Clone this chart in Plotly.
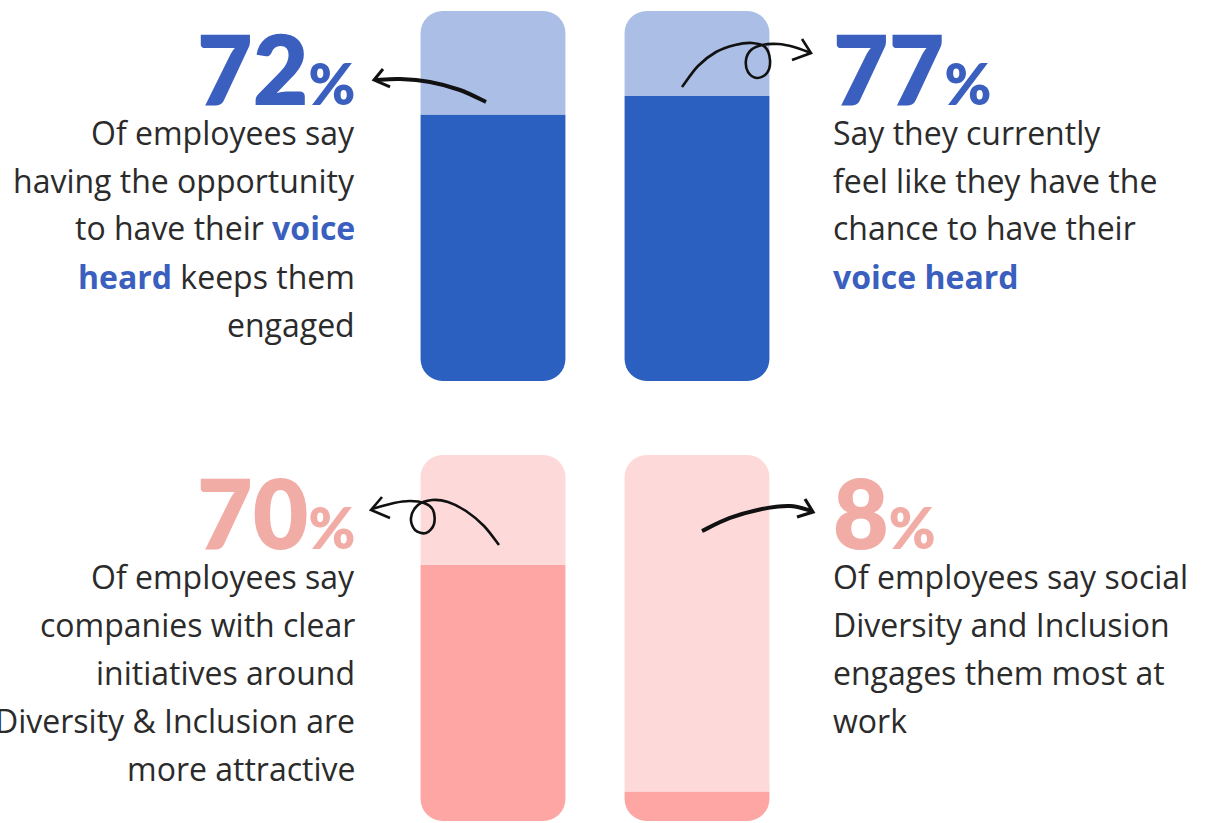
import plotly.graph_objects as go

W, H = 1208, 823

# Survey shares (percent of employees)
voice_values = [72, 77]   # "voice heard" pair
di_values = [70, 8]       # Diversity & Inclusion pair
bar_slots = [0, 1]

voice_big = ["72", "77"]
di_big = ["70", "8"]

BLUE_DARK = "#2c60c0"
BLUE_LIGHT = "#abbfe6"
BLUE_TEXT = "#3a5fbe"
PINK_DARK = "#fea6a3"
PINK_LIGHT = "#fddad9"
PINK_TEXT = "#f2aca6"
INK = "#2b2b2b"
BODY_FONT = "Open Sans"
NUM_FONT = "Lato"

voice_left_lines = [
    "Of employees say",
    "having the opportunity",
    f"to have their <b><span style='color:{BLUE_TEXT}'>voice</span></b>",
    f"<b><span style='color:{BLUE_TEXT}'>heard</span></b> keeps them",
    "engaged",
]
voice_right_lines = [
    "Say they currently",
    "feel like they have the",
    "chance to have their",
    f"<b><span style='color:{BLUE_TEXT}'>voice heard</span></b>",
]
di_left_lines = [
    "Of employees say",
    "companies with clear",
    "initiatives around",
    "Diversity &amp; Inclusion are",
    "more attractive",
]
di_right_lines = [
    "Of employees say social",
    "Diversity and Inclusion",
    "engages them most at",
    "work",
]

fig = go.Figure()

BAR_W = 0.71
RADIUS = 22


def add_pair(values, xa, ya, dark, light):
    """Each column is a 0-100 track centred on the axis zero line (-50..50).
    Relative stacking puts the outermost segment of each side at the rounded ends."""
    light_low = [-max(50 - v, 0) for v in values]   # pale part below the midline
    dark_low = [-min(v, 50) for v in values]        # filled part below the midline
    dark_high = [max(v - 50, 0) for v in values]    # filled part above the midline
    light_high = [min(100 - v, 50) for v in values]  # pale part above the midline
    common = dict(x=bar_slots, width=BAR_W, xaxis=xa, yaxis=ya,
                  hoverinfo="skip", showlegend=False)
    for seg, col in [(light_low, light), (dark_low, dark),
                     (dark_high, dark), (light_high, light)]:
        fig.add_trace(go.Bar(y=seg, marker=dict(color=col, cornerradius=RADIUS,
                                                line_width=0), **common))


add_pair(voice_values, "x", "y", BLUE_DARK, BLUE_LIGHT)
add_pair(di_values, "x2", "y2", PINK_DARK, PINK_LIGHT)

# 1 slot = 204 px, first slot centred at x = 493 px
unit = 204.0
x0 = -493.0 / unit
xrange = [x0, x0 + W / unit]
axis_off = dict(visible=False, fixedrange=True)

fig.update_layout(
    width=W, height=H,
    margin=dict(l=0, r=0, t=0, b=0),
    paper_bgcolor="white", plot_bgcolor="rgba(0,0,0,0)",
    barmode="relative",
    barcornerradius=RADIUS,
    xaxis=dict(domain=[0, 1], range=xrange, anchor="y", **axis_off),
    yaxis=dict(domain=[1 - 381 / H, 1 - 11 / H], range=[-50, 50], anchor="x", **axis_off),
    xaxis2=dict(domain=[0, 1], range=xrange, anchor="y2", **axis_off),
    yaxis2=dict(domain=[1 - 821 / H, 1 - 455 / H], range=[-50, 50], anchor="x2", **axis_off),
    font=dict(family=BODY_FONT, color=INK),
)


def px(x, y):
    return x / W, 1 - y / H


annotations = []


def text_block(lines, x, y_first, step, anchor):
    for i, line in enumerate(lines):
        ax, ay = px(x, y_first + i * step)
        annotations.append(dict(
            x=ax, y=ay, xref="paper", yref="paper", text=line, showarrow=False,
            xanchor=anchor, yanchor="middle", align=anchor,
            font=dict(family=BODY_FONT, size=32, color=INK, weight=400),
        ))


def big_number(num, colour, x, y, anchor):
    ax, ay = px(x, y)
    annotations.append(dict(
        x=ax, y=ay, xref="paper", yref="paper",
        text=f"{num}<span style='font-size:56px'>%</span>",
        showarrow=False, xanchor=anchor, yanchor="middle",
        font=dict(family=NUM_FONT, size=96, color=colour, weight=800),
    ))


big_number(voice_big[0], BLUE_TEXT, 357, 67, "right")
big_number(voice_big[1], BLUE_TEXT, 831, 67, "left")
big_number(di_big[0], PINK_TEXT, 357, 512, "right")
big_number(di_big[1], PINK_TEXT, 831, 512, "left")

text_block(voice_left_lines, 357, 132, 48, "right")
text_block(voice_right_lines, 831, 132, 48, "left")
text_block(di_left_lines, 357, 576, 48, "right")
text_block(di_right_lines, 831, 576, 48, "left")

fig.update_layout(annotations=annotations)


# hand-drawn arrows: smooth paths through a few guide points
def smooth_path(points):
    pts = [px(x, y) for x, y in points]
    ext = [pts[0]] + pts + [pts[-1]]
    d = f"M {pts[0][0]:.5f},{pts[0][1]:.5f}"
    for i in range(1, len(ext) - 2):
        p0, p1, p2, p3 = ext[i - 1], ext[i], ext[i + 1], ext[i + 2]
        c1 = (p1[0] + (p2[0] - p0[0]) / 6, p1[1] + (p2[1] - p0[1]) / 6)
        c2 = (p2[0] - (p3[0] - p1[0]) / 6, p2[1] - (p3[1] - p1[1]) / 6)
        d += (f" C {c1[0]:.5f},{c1[1]:.5f} {c2[0]:.5f},{c2[1]:.5f}"
              f" {p2[0]:.5f},{p2[1]:.5f}")
    return d


def polyline(points):
    pts = [px(x, y) for x, y in points]
    return "M " + " L ".join(f"{a:.5f},{b:.5f}" for a, b in pts)


strokes = [
    # 72 %: brush stroke sweeping left
    (smooth_path([(486, 102), (460, 90), (430, 82), (400, 79), (376, 80)]), 4.0),
    (polyline([(383, 69), (374, 80), (390, 87)]), 3.0),
    # 77 %: rising line with a clockwise curl, pointing right
    (smooth_path([(682, 87), (698, 66), (716, 52), (735, 45), (752, 43), (765, 47),
                  (770, 60), (767, 73), (757, 78), (748, 72), (746, 60), (751, 50),
                  (762, 45), (778, 44), (794, 47), (811, 53)]), 2.6),
    (polyline([(802, 39), (811, 53), (792, 60)]), 2.6),
    # 70 %: line from the bar with a curl, pointing left
    (smooth_path([(499, 545), (484, 526), (466, 511), (448, 502), (432, 500),
                  (418, 505), (411, 518), (415, 530), (426, 533), (434, 524),
                  (433, 510), (424, 503), (410, 501), (394, 503), (372, 509)]), 2.6),
    (polyline([(382, 497), (371, 510), (390, 518)]), 2.6),
    # 8 %: brush stroke sweeping right
    (smooth_path([(702, 531), (730, 518), (762, 509), (790, 506), (812, 511)]), 4.0),
    (polyline([(805, 499), (813, 512), (797, 517)]), 3.2),
]

fig.update_layout(shapes=[
    dict(type="path", path=p, xref="paper", yref="paper",
         line=dict(color="#111111", width=w), fillcolor="rgba(0,0,0,0)", layer="above")
    for p, w in strokes
])

fig.write_html("out.html", config=dict(displayModeBar=False))
